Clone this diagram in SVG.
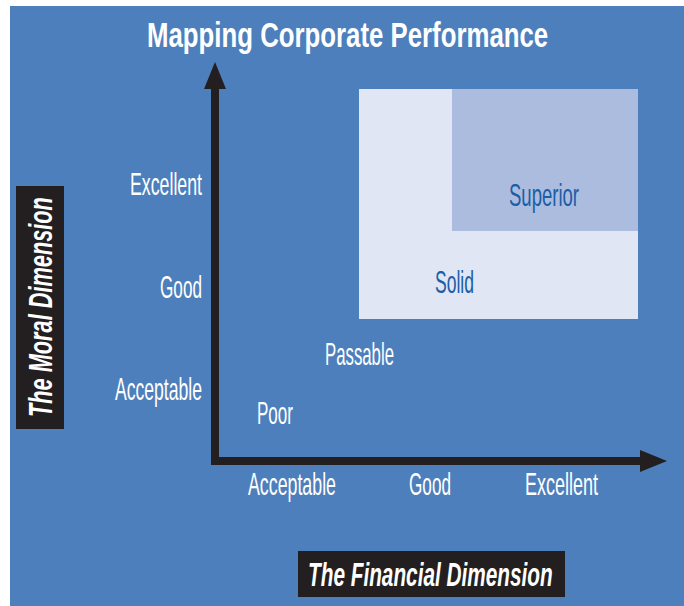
<svg xmlns="http://www.w3.org/2000/svg" width="684" height="606" viewBox="0 0 684 606">
  <style>
    .lbl { font-family: "Liberation Sans", Arial, sans-serif; font-size: 32px; fill: #ffffff; }
    .zone { font-family: "Liberation Sans", Arial, sans-serif; font-size: 32px; fill: #1b5ea6; }
    .title { font-family: "Liberation Sans", Arial, sans-serif; font-size: 35px; font-weight: bold; fill: #ffffff; }
    .dim { font-family: "Liberation Sans", Arial, sans-serif; font-size: 33px; font-weight: bold; font-style: italic; fill: #ffffff; }
    .axis { stroke: #231f20; stroke-width: 8; fill: none; }
    .head { fill: #231f20; }
  </style>

  <rect x="0" y="0" width="684" height="606" fill="#ffffff"/>
  <rect x="10" y="6" width="674" height="600" fill="#4d7fbc"/>

  <!-- condensed heading: horizontal squeeze keeps the glyph height -->
  <text class="title" transform="translate(147,47) scale(0.737,1)">Mapping Corporate Performance</text>

  <!-- quality zones -->
  <g id="solid">
    <rect x="359" y="89" width="279" height="230" fill="#e0e6f4"/>
    <text class="zone" x="435" y="293" textLength="39" lengthAdjust="spacingAndGlyphs">Solid</text>
  </g>
  <g id="superior">
    <rect x="452" y="89" width="186" height="142" fill="#abbcdf"/>
    <text class="zone" x="509" y="206" textLength="70" lengthAdjust="spacingAndGlyphs">Superior</text>
  </g>
  <g id="passable">
    <text class="lbl" x="325" y="365" textLength="69" lengthAdjust="spacingAndGlyphs">Passable</text>
  </g>
  <g id="poor">
    <text class="lbl" x="257" y="424" textLength="36" lengthAdjust="spacingAndGlyphs">Poor</text>
  </g>

  <!-- axes -->
  <g id="axes">
    <polyline class="axis" points="215,88 215,461 641,461"/>
    <polygon class="head" points="215,62 204,89 226,89"/>
    <polygon class="head" points="667,461 640,450 640,472"/>
  </g>

  <!-- moral scale -->
  <g id="moral-scale">
    <text class="lbl" x="202" y="195" text-anchor="end" textLength="72" lengthAdjust="spacingAndGlyphs">Excellent</text>
    <text class="lbl" x="202" y="298" text-anchor="end" textLength="42" lengthAdjust="spacingAndGlyphs">Good</text>
    <text class="lbl" x="202" y="400" text-anchor="end" textLength="87" lengthAdjust="spacingAndGlyphs">Acceptable</text>
  </g>

  <!-- financial scale -->
  <g id="financial-scale">
    <text class="lbl" x="248" y="495" textLength="88" lengthAdjust="spacingAndGlyphs">Acceptable</text>
    <text class="lbl" x="409" y="495" textLength="42" lengthAdjust="spacingAndGlyphs">Good</text>
    <text class="lbl" x="525" y="495" textLength="73" lengthAdjust="spacingAndGlyphs">Excellent</text>
  </g>

  <g id="moral-dimension">
    <rect x="16" y="186" width="48" height="243" fill="#231f20"/>
    <text class="dim" transform="translate(52,417) rotate(-90) scale(0.659,1)">The Moral Dimension</text>
  </g>

  <g id="financial-dimension">
    <rect x="298" y="551" width="267" height="46" fill="#231f20"/>
    <text class="dim" transform="translate(308,586) scale(0.63,1)">The Financial Dimension</text>
  </g>
</svg>
